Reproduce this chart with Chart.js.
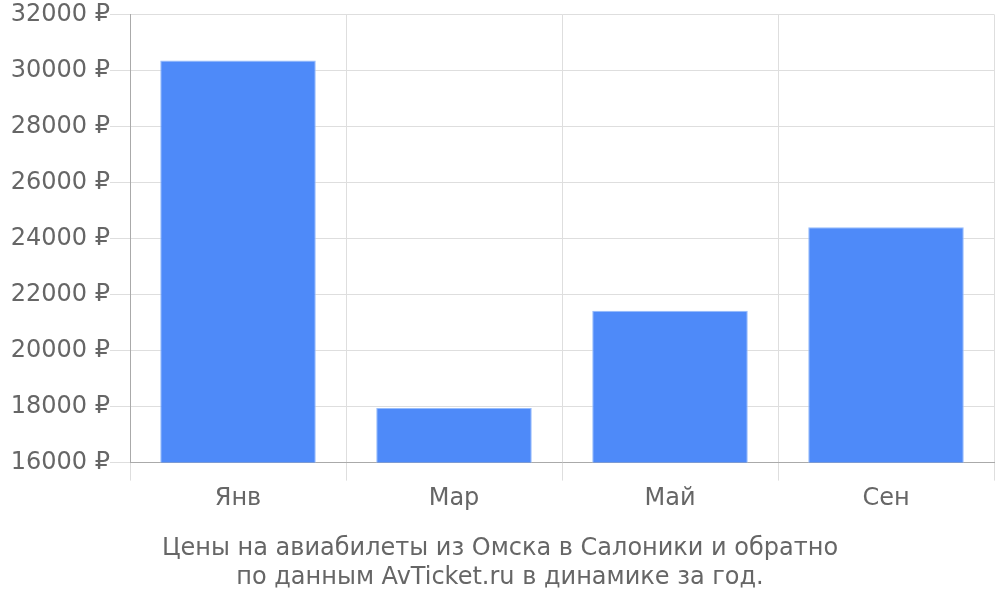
<!DOCTYPE html>
<html>
<head>
<meta charset="utf-8">
<script src="https://cdn.jsdelivr.net/npm/chart.js@4/dist/chart.umd.min.js"></script>
<style>
  html, body { margin: 0; padding: 0; background: #fff; }
  #wrap { width: 1000px; height: 600px; }
</style>
</head>
<body>
<div id="wrap"><canvas id="cvs_precos"></canvas></div>
<script>
// Dados do gráfico
const meses = ["Янв", "Мар", "Май", "Сен"];
const precos = [30350, 17950, 21420, 24400];
const titulo = ["Цены на авиабилеты из Омска в Салоники и обратно", "по данным AvTicket.ru в динамике за год."];

const corTexto = "#666666";
const fonte = "'DejaVu Sans', sans-serif";

new Chart(document.getElementById("cvs_precos"), {
    type: "bar",
    data: {
        labels: meses,
        datasets: [{
            data: precos,
            backgroundColor: "rgb(78, 138, 249)",
            borderColor: "rgb(150, 188, 252)",
            borderWidth: 1,
            barPercentage: 0.9,
            categoryPercentage: 0.8
        }]
    },
    options: {
        responsive: true,
        maintainAspectRatio: false,
        animation: false,
        layout: { padding: { top: 2, right: 6, left: 6, bottom: 8 } },
        plugins: {
            legend: { display: false },
            tooltip: { enabled: false },
            title: {
                display: true,
                position: "bottom",
                text: titulo,
                color: corTexto,
                font: { family: fonte, size: 24, weight: "normal", lineHeight: 1.2 },
                padding: { top: 17, bottom: 0 }
            }
        },
        scales: {
            x: {
                grid: { color: "#dedede", tickLength: 18, offset: true },
                border: { color: "#aaaaaa" },
                ticks: { color: corTexto, font: { family: fonte, size: 24 }, padding: 4 }
            },
            y: {
                min: 16000,
                max: 32000,
                afterFit: escala => { escala.width = 124; },
                grid: { color: "#dedede", tickLength: 20 },
                border: { color: "#aaaaaa" },
                ticks: {
                    stepSize: 2000,
                    color: corTexto,
                    padding: 0,
                    font: { family: fonte, size: 24 },
                    callback: v => v + " ₽"
                }
            }
        }
    }
});
</script>
</body>
</html>
